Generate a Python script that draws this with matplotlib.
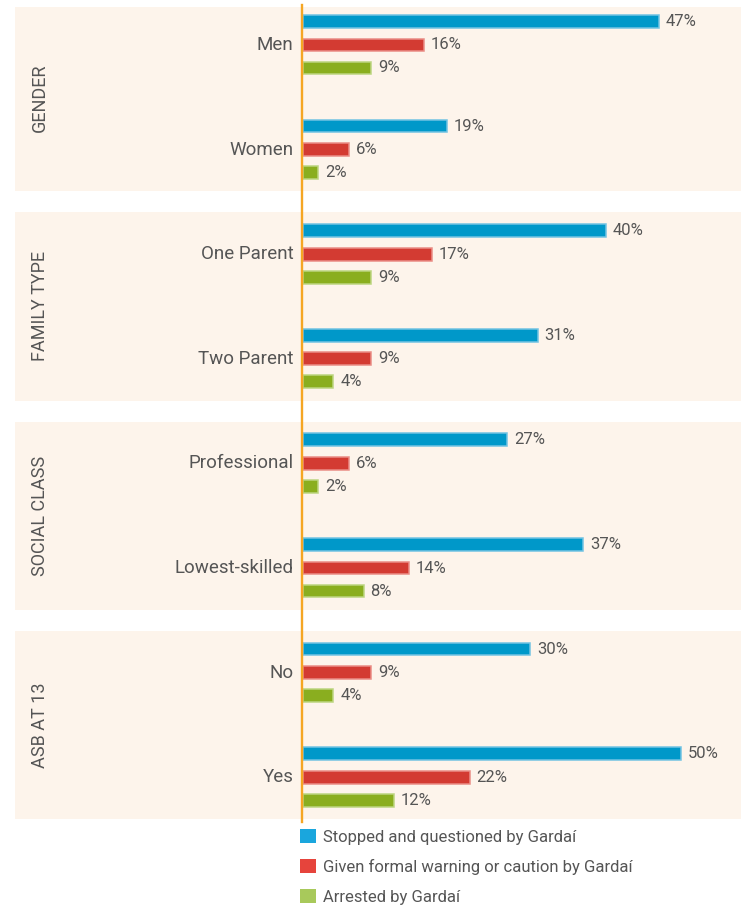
import matplotlib
matplotlib.use('Agg')
import matplotlib.pyplot as plt
from matplotlib.patches import Patch

plt.rcParams['font.family'] = ['Roboto', 'DejaVu Sans']

# data (percent)
groups = ['GENDER', 'FAMILY TYPE', 'SOCIAL CLASS', 'ASB AT 13']
categories = ['Men', 'Women', 'One Parent', 'Two Parent',
              'Professional', 'Lowest-skilled', 'No', 'Yes']
stopped = [47, 19, 40, 31, 27, 37, 30, 50]
warned = [16, 6, 17, 9, 6, 14, 9, 22]
arrested = [9, 2, 9, 4, 2, 8, 4, 12]
series_names = ['Stopped and questioned by Gardaí',
                'Given formal warning or caution by Gardaí',
                'Arrested by Gardaí']

bar_face = ['#0098c9', '#d33b32', '#8aae1f']
bar_edge = ['#72c3e3', '#ea8d86', '#bcd580']
legend_col = ['#1aa6dd', '#e6443c', '#a8c95b']
panel_bg = '#fdf4eb'
text_col = '#555555'

W, H = 746, 910
fig = plt.figure(figsize=(W / 100, H / 100), dpi=100)
ax = fig.add_axes([15 / W, 1 - 822 / H, 726 / W, 815 / H])
ax.set_xlim(-38.1, 57.9)
ax.set_ylim(7.428, -0.363)
ax.axis('off')

# background panels, one per group of two categories
for k, g in enumerate(groups):
    ax.axhspan(2 * k - 0.4, 2 * k + 1.4, color=panel_bg, zorder=0, lw=0)
    ax.text(-34.8, 2 * k + 0.5, g, rotation=90, ha='center', va='center',
            fontsize=13, color=text_col)

offsets = [-0.225, 0.0, 0.22]
bh = 0.122
for s, vals in enumerate([stopped, warned, arrested]):
    ypos = [i + offsets[s] for i in range(len(categories))]
    bars = ax.barh(ypos, vals, height=bh, color=bar_face[s],
                   edgecolor=bar_edge[s], linewidth=1.1, zorder=2)
    for b, v in zip(bars, vals):
        ax.annotate(f'{v}%', (b.get_width(), b.get_y() + bh / 2),
                    xytext=(5, 0), textcoords='offset points',
                    ha='left', va='center', fontsize=12, color=text_col)

for i, c in enumerate(categories):
    ax.text(-1.3, i, c, ha='right', va='center', fontsize=13.5, color=text_col)

ax.axvline(-0.1, ymin=0, ymax=1.003, color='#f5a623', lw=1.7, zorder=3,
           clip_on=False)

handles = [Patch(facecolor=legend_col[s], edgecolor='none') for s in range(3)]
fig.legend(handles, series_names, loc='upper left',
           bbox_to_anchor=(300 / W, 1 - 829 / H), frameon=False,
           fontsize=12, handlelength=0.96, handleheight=0.96,
           handletextpad=0.42, labelspacing=0.83, borderpad=0,
           borderaxespad=0, labelcolor=text_col)

plt.savefig('out.png', dpi=100)
plt.close(fig)
